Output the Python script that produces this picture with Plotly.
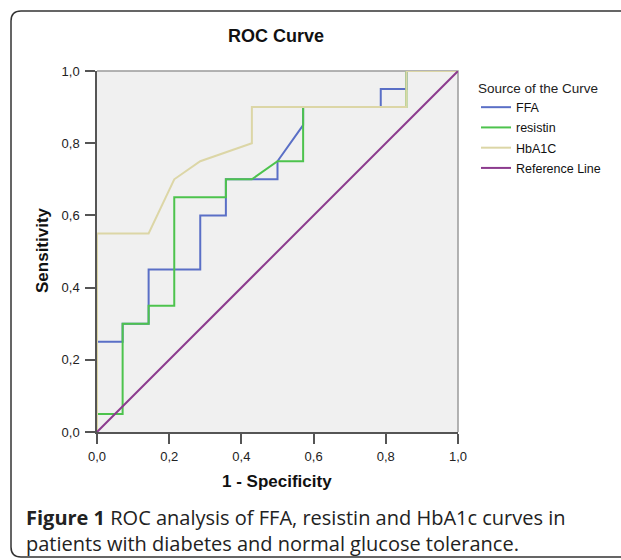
import plotly.graph_objects as go

# ---- data ----
ffa_x = [0.0, 0.0, 0.071, 0.071, 0.143, 0.143, 0.286, 0.286, 0.357, 0.357, 0.5, 0.5, 0.571, 0.571, 0.786, 0.786, 0.857, 0.857, 1.0]
ffa_y = [0.0, 0.25, 0.25, 0.30, 0.30, 0.45, 0.45, 0.60, 0.60, 0.70, 0.70, 0.75, 0.85, 0.90, 0.90, 0.95, 0.95, 1.0, 1.0]

res_x = [0.0, 0.0, 0.071, 0.071, 0.143, 0.143, 0.214, 0.214, 0.357, 0.357, 0.429, 0.5, 0.571, 0.571, 0.857, 0.857, 1.0]
res_y = [0.0, 0.05, 0.05, 0.30, 0.30, 0.35, 0.35, 0.65, 0.65, 0.70, 0.70, 0.75, 0.75, 0.90, 0.90, 1.0, 1.0]

hba_x = [0.0, 0.0, 0.143, 0.214, 0.286, 0.429, 0.429, 0.857, 0.857, 1.0]
hba_y = [0.0, 0.55, 0.55, 0.70, 0.75, 0.80, 0.90, 0.90, 1.0, 1.0]

ref_x = [0.0, 1.0]
ref_y = [0.0, 1.0]

series_names = ["FFA", "resistin", "HbA1C", "Reference Line"]
tick_vals = [0.0, 0.2, 0.4, 0.6, 0.8, 1.0]

colors = ["#5a6fc6", "#4dc34d", "#dcd6a6", "#8c3b8e"]

W, H = 621, 560
L, R, T, B = 97, 458, 71, 432  # plot-area pixel box
S = R - L


def px(x):
    return (x - L) / (R - L)


def py(y):
    return (B - y) / (B - T)


fig = go.Figure()
for xs, ys, name, c in zip([ffa_x, res_x, hba_x, ref_x], [ffa_y, res_y, hba_y, ref_y], series_names, colors):
    fig.add_trace(go.Scatter(x=xs, y=ys, mode="lines", name=name, legendgroup=name,
                             line=dict(color=c, width=2), hoverinfo="skip"))

axis_common = dict(
    range=[0, 1], tickvals=tick_vals, tickformat=".1f", showgrid=False, zeroline=False,
    showline=True, linecolor="#555555", linewidth=1.5, ticks="outside", ticklen=10,
    tickcolor="#555555", tickwidth=1.5,
    tickfont=dict(family="Arial, Liberation Sans", size=13, color="#222222"),
)

fig.update_layout(
    width=W, height=H,
    margin=dict(l=L, r=W - R, t=T, b=H - B, pad=0),
    paper_bgcolor="white", plot_bgcolor="#f0f0f0",
    separators=",.",
    xaxis=dict(axis_common, ticklabelstandoff=2),
    yaxis=dict(axis_common, ticklabelstandoff=3),
    showlegend=True,
    legend=dict(
        x=px(476), y=py(75), xanchor="left", yanchor="top",
        bgcolor="rgba(0,0,0,0)",
        title=dict(text="Source of the Curve", font=dict(family="Arial, Liberation Sans", size=13.5, color="#222222")),
        font=dict(family="Arial, Liberation Sans", size=12.5, color="#111111"),
        itemwidth=30, tracegroupgap=1,
    ),
)

# gray top/right border of the plot area
fig.add_shape(type="path", xref="paper", yref="paper",
              path="M 0,1 L 1,1 L 1,0", line=dict(color="#9a9a9a", width=1.5), layer="below")

# rounded outer frame
r = 10 / S
x0, y0, y1 = px(11), py(557), py(11)
fig.add_shape(type="path", xref="paper", yref="paper",
              path=(f"M 1.6,{y1} L {x0 + r},{y1} Q {x0},{y1} {x0},{y1 - r} "
                    f"L {x0},{y0 + r} Q {x0},{y0} {x0 + r},{y0} L 1.6,{y0}"),
              line=dict(color="#333333", width=1.5))

ann_font = dict(family="Arial, Liberation Sans", color="#111111")
fig.add_annotation(text="<b>ROC Curve</b>", xref="paper", yref="paper", x=px(276), y=py(36),
                   showarrow=False, font=dict(size=18, **ann_font), xanchor="center", yanchor="middle")
fig.add_annotation(text="<b>Sensitivity</b>", xref="paper", yref="paper", x=px(42), y=py(250),
                   showarrow=False, textangle=-90, font=dict(size=17, **ann_font), xanchor="center", yanchor="middle")
fig.add_annotation(text="<b>1 - Specificity</b>", xref="paper", yref="paper", x=px(277), y=py(481),
                   showarrow=False, font=dict(size=17, **ann_font), xanchor="center", yanchor="middle")

cap_font = dict(family="Open Sans, Noto Sans", size=20, color="#222222")
fig.add_annotation(text="<b>Figure 1</b> ROC analysis of FFA, resistin and HbA1c curves in",
                   xref="paper", yref="paper", x=px(24), y=py(517), showarrow=False,
                   xanchor="left", yanchor="middle", font=cap_font)
fig.add_annotation(text="patients with diabetes and normal glucose tolerance.",
                   xref="paper", yref="paper", x=px(24), y=py(543), showarrow=False,
                   xanchor="left", yanchor="middle", font=cap_font)

fig.write_html("out.html", config={"displayModeBar": False},
               post_script="document.body.style.margin='0';document.body.style.overflow='hidden';")
